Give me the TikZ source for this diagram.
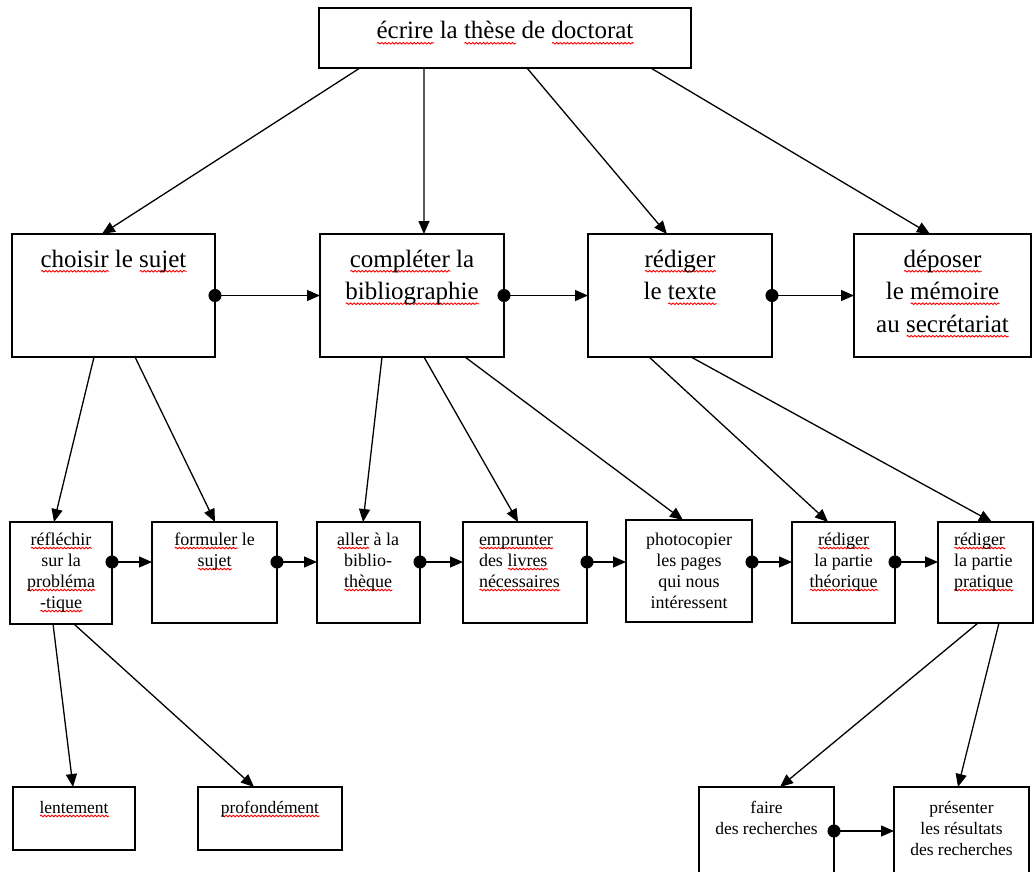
\documentclass[tikz,border=0pt]{standalone}
\usepackage{fontspec}
\setmainfont{Liberation Serif}
\usetikzlibrary{arrows.meta,calc,decorations.pathmorphing}

% red wavy underline under a word
\newlength\wavylen
\newlength\wavydp
\newcommand\wavy[1]{\leavevmode\settowidth\wavylen{#1}\setlength\wavydp{0.17em}%
  \rlap{\smash{\tikz[baseline=0pt]\draw[red,line width=0.9pt,decorate,
    decoration={snake,amplitude=0.8pt,segment length=3.6pt}]
    (0pt,-\wavydp)--(\wavylen,-\wavydp);}}#1}

\tikzset{
  box/.style={draw, line width=1.5pt, inner sep=0pt, outer sep=0pt, anchor=north west},
  lbl/.style={inner sep=0pt, outer sep=0pt, anchor=base},
  big/.style={font=\fontsize{25}{32.5}\selectfont},
  mid/.style={font=\fontsize{18}{21}\selectfont},
  sml/.style={font=\fontsize{17.5}{21}\selectfont},
  link/.style={line width=1.3pt, -{Triangle[length=13pt,width=11pt]}},
  flow/.style={line width=1.3pt, {Circle[length=13pt]}-{Triangle[length=13pt,width=11pt]}, shorten <=-6.5pt},
}

\begin{document}
\begin{tikzpicture}[x=1pt,y=-1pt]
\useasboundingbox (0,0) rectangle (1036,872);
\clip (0,0) rectangle (1036,872);

% boxes
\node[box, minimum width=372pt, minimum height=60pt]  (these)     at (319,8)   {};
\node[box, minimum width=203pt, minimum height=123pt] (choisir)   at (12,234)  {};
\node[box, minimum width=184pt, minimum height=123pt] (completer) at (320,234) {};
\node[box, minimum width=184pt, minimum height=123pt] (rediger)   at (588,234) {};
\node[box, minimum width=177pt, minimum height=123pt] (deposer)   at (854,234) {};
\node[box, minimum width=102pt, minimum height=102pt] (reflechir) at (10,522)  {};
\node[box, minimum width=125pt, minimum height=101pt] (formuler)  at (152,522) {};
\node[box, minimum width=103pt, minimum height=101pt] (aller)     at (317,522) {};
\node[box, minimum width=124pt, minimum height=101pt] (emprunter) at (463,522) {};
\node[box, minimum width=126pt, minimum height=102pt] (photo)     at (626,520) {};
\node[box, minimum width=103pt, minimum height=101pt] (theorie)   at (792,522) {};
\node[box, minimum width=95pt,  minimum height=101pt] (pratique)  at (938,522) {};
\node[box, minimum width=122pt, minimum height=63pt]  (lentement) at (13,787)  {};
\node[box, minimum width=144pt, minimum height=63pt]  (profond)   at (198,787) {};
\node[box, minimum width=135pt, minimum height=93pt]  (faire)     at (699,787) {};
\node[box, minimum width=135pt, minimum height=93pt]  (presenter) at (894,787) {};

% texts
\node[lbl,big] (these-t) at (505,39) {\wavy{écrire} la \wavy{thèse} de \wavy{doctorat}};
\node[lbl,big] (choisir-t) at (113.5,267) {\wavy{choisir} le \wavy{sujet}};
\node[lbl,big] (completer-t) at (412,267)
  {\begin{tabular}[t]{@{}c@{}}\wavy{compléter} la\\ \wavy{bibliographie}\end{tabular}};
\node[lbl,big] (rediger-t) at (680,267)
  {\begin{tabular}[t]{@{}c@{}}\wavy{rédiger}\\ le \wavy{texte}\end{tabular}};
\node[lbl,big] (deposer-t) at (942.5,267)
  {\begin{tabular}[t]{@{}c@{}}\wavy{déposer}\\ le \wavy{mémoire}\\ au \wavy{secrétariat}\end{tabular}};

\node[lbl,mid] (reflechir-t) at (61,545)
  {\begin{tabular}[t]{@{}c@{}}\wavy{réfléchir}\\ sur la\\ \wavy{probléma}\\ \wavy{-tique}\end{tabular}};
\node[lbl,mid] (formuler-t) at (214.5,545)
  {\begin{tabular}[t]{@{}c@{}}\wavy{formuler} le\\ \wavy{sujet}\end{tabular}};
\node[lbl,mid] (aller-t) at (368,545)
  {\begin{tabular}[t]{@{}c@{}}\wavy{aller} à la\\ biblio-\\ \wavy{thèque}\end{tabular}};
\node[lbl,mid,anchor=base west] (emprunter-t) at (479,545)
  {\begin{tabular}[t]{@{}l@{}}\wavy{emprunter}\\ des \wavy{livres}\\ \wavy{nécessaires}\end{tabular}};
\node[lbl,mid] (photo-t) at (689,545)
  {\begin{tabular}[t]{@{}c@{}}photocopier\\ les pages\\ qui nous\\ intéressent\end{tabular}};
\node[lbl,mid] (theorie-t) at (843.5,545)
  {\begin{tabular}[t]{@{}c@{}}\wavy{rédiger}\\ la partie\\ \wavy{théorique}\end{tabular}};
\node[lbl,mid,anchor=base west] (pratique-t) at (954,545)
  {\begin{tabular}[t]{@{}l@{}}\wavy{rédiger}\\ la partie\\ \wavy{pratique}\end{tabular}};

\node[lbl,sml] (lentement-t) at (74,813) {\wavy{lentement}};
\node[lbl,sml] (profond-t) at (270,813) {\wavy{profondément}};
\node[lbl,sml] (faire-t) at (766.5,813)
  {\begin{tabular}[t]{@{}c@{}}faire\\ des recherches\end{tabular}};
\node[lbl,sml] (presenter-t) at (961.5,813)
  {\begin{tabular}[t]{@{}c@{}}présenter\\ les résultats\\ des recherches\end{tabular}};

% hierarchy arrows
\draw[link] ($(these.south west)!0.110!(these.south east)$) -- ($(choisir.north west)!0.443!(choisir.north east)$);
\draw[link] ($(these.south west)!0.282!(these.south east)$) -- ($(completer.north west)!0.565!(completer.north east)$);
\draw[link] ($(these.south west)!0.559!(these.south east)$) -- ($(rediger.north west)!0.429!(rediger.north east)$);
\draw[link] ($(these.south west)!0.892!(these.south east)$) -- ($(deposer.north west)!0.429!(deposer.north east)$);

\draw[link] ($(choisir.south west)!0.404!(choisir.south east)$) -- ($(reflechir.north west)!0.431!(reflechir.north east)$);
\draw[link] ($(choisir.south west)!0.606!(choisir.south east)$) -- ($(formuler.north west)!0.504!(formuler.north east)$);
\draw[link] ($(completer.south west)!0.337!(completer.south east)$) -- ($(aller.north west)!0.447!(aller.north east)$);
\draw[link] ($(completer.south west)!0.565!(completer.south east)$) -- ($(emprunter.north west)!0.444!(emprunter.north east)$);
\draw[link] ($(completer.south west)!0.788!(completer.south east)$) -- ($(photo.north west)!0.452!(photo.north east)$);
\draw[link] ($(rediger.south west)!0.332!(rediger.south east)$) -- ($(theorie.north west)!0.350!(theorie.north east)$);
\draw[link] ($(rediger.south west)!0.560!(rediger.south east)$) -- ($(pratique.north west)!0.568!(pratique.north east)$);

\draw[link] ($(reflechir.south west)!0.422!(reflechir.south east)$) -- ($(lentement.north west)!0.492!(lentement.north east)$);
\draw[link] ($(reflechir.south west)!0.627!(reflechir.south east)$) -- ($(profond.north west)!0.389!(profond.north east)$);
\draw[link] ($(pratique.south west)!0.421!(pratique.south east)$) -- ($(faire.north west)!0.600!(faire.north east)$);
\draw[link] ($(pratique.south west)!0.642!(pratique.south east)$) -- ($(presenter.north west)!0.474!(presenter.north east)$);

% sequence arrows
\draw[flow] (choisir.east) -- (completer.west);
\draw[flow] (completer.east) -- (rediger.west);
\draw[flow] (rediger.east) -- (deposer.west);

\draw[flow] ([yshift=-40pt]reflechir.north east) -- ([yshift=-40pt]formuler.north west);
\draw[flow] ([yshift=-40pt]formuler.north east) -- ([yshift=-40pt]aller.north west);
\draw[flow] ([yshift=-40pt]aller.north east) -- ([yshift=-40pt]emprunter.north west);
\draw[flow] ([yshift=-40pt]emprunter.north east) -- ([yshift=-42pt]photo.north west);
\draw[flow] ([yshift=-42pt]photo.north east) -- ([yshift=-40pt]theorie.north west);
\draw[flow] ([yshift=-40pt]theorie.north east) -- ([yshift=-40pt]pratique.north west);

\draw[flow] ([yshift=-44pt]faire.north east) -- ([yshift=-44pt]presenter.north west);
\end{tikzpicture}
\end{document}
